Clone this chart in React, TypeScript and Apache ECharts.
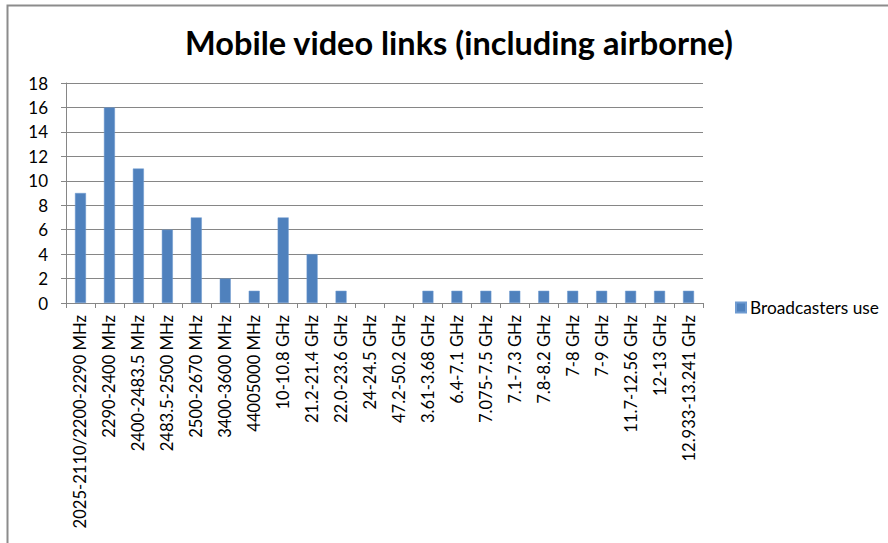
import React, { useEffect, useRef } from "react";
import * as echarts from "echarts";

const titleText = "Mobile video links (including airborne)";
const seriesName = "Broadcasters use";
const categories = [
  "2025-2110/2200-2290 MHz",
  "2290-2400 MHz",
  "2400-2483.5 MHz",
  "2483.5-2500 MHz",
  "2500-2670 MHz",
  "3400-3600 MHz",
  "44005000 MHz",
  "10-10.8 GHz",
  "21.2-21.4 GHz",
  "22.0-23.6 GHz",
  "24-24.5 GHz",
  "47.2-50.2 GHz",
  "3.61-3.68 GHz",
  "6.4-7.1 GHz",
  "7.075-7.5 GHz",
  "7.1-7.3 GHz",
  "7.8-8.2 GHz",
  "7-8 GHz",
  "7-9 GHz",
  "11.7-12.56 GHz",
  "12-13 GHz",
  "12.933-13.241 GHz",
];
const values: (number | null)[] = [9, 16, 11, 6, 7, 2, 1, 7, 4, 1, null, null, 1, 1, 1, 1, 1, 1, 1, 1, 1, 1];

const FONT = "Lato";

export default function App() {
  const ref = useRef<HTMLDivElement>(null);
  useEffect(() => {
    if (!ref.current) return;
    const chart = echarts.init(ref.current, null, { renderer: "svg" });
    chart.setOption({
      animation: false,
      backgroundColor: "#ffffff",
      textStyle: { fontFamily: FONT },
      title: {
        text: titleText,
        left: 454,
        textAlign: "center",
        top: 21,
        textStyle: { fontFamily: FONT, fontSize: 32.5, fontWeight: "bold", color: "#000000" },
      },
      legend: {
        data: [seriesName],
        left: 730,
        top: 294,
        itemWidth: 10,
        itemHeight: 10,
        itemGap: 4,
        icon: "rect",
        textStyle: { fontFamily: FONT, fontSize: 17.3, color: "#000000", padding: [0, 0, 0, -1] },
      },
      graphic: [
        {
          type: "rect",
          shape: { x: 7.5, y: 5.5, width: 1000, height: 1000 },
          style: { fill: "none", stroke: "#8c8c8c", lineWidth: 2 },
          silent: true,
        },
      ],
      grid: { left: 66, right: 185, top: 83, bottom: 240, containLabel: false },
      xAxis: {
        type: "category",
        data: categories,
        axisLine: { lineStyle: { color: "#868686", width: 1 } },
        axisTick: { show: true, alignWithLabel: false, length: 5, inside: false, lineStyle: { color: "#868686" } },
        axisLabel: {
          rotate: 90,
          interval: 0,
          margin: 12,
          fontFamily: FONT,
          fontSize: 16.6,
          color: "#000000",
        },
      },
      yAxis: {
        type: "value",
        min: 0,
        max: 18,
        interval: 2,
        axisLine: { show: true, lineStyle: { color: "#868686" } },
        axisTick: { show: true, length: 5, lineStyle: { color: "#868686" } },
        splitLine: { show: true, lineStyle: { color: "#868686", width: 1 } },
        axisLabel: { fontFamily: FONT, fontSize: 17, color: "#000000", margin: 18 },
      },
      series: [
        {
          name: seriesName,
          type: "bar",
          data: values,
          barWidth: 11,
          itemStyle: { color: "#4f81bd", borderColor: "#6f9bd1", borderWidth: 0.5 },
        },
      ],
    });
    return () => chart.dispose();
  }, []);
  return (
    <div
      ref={ref}
      style={{ position: "fixed", left: 0, top: 0, width: 888, height: 543 }}
    />
  );
}
